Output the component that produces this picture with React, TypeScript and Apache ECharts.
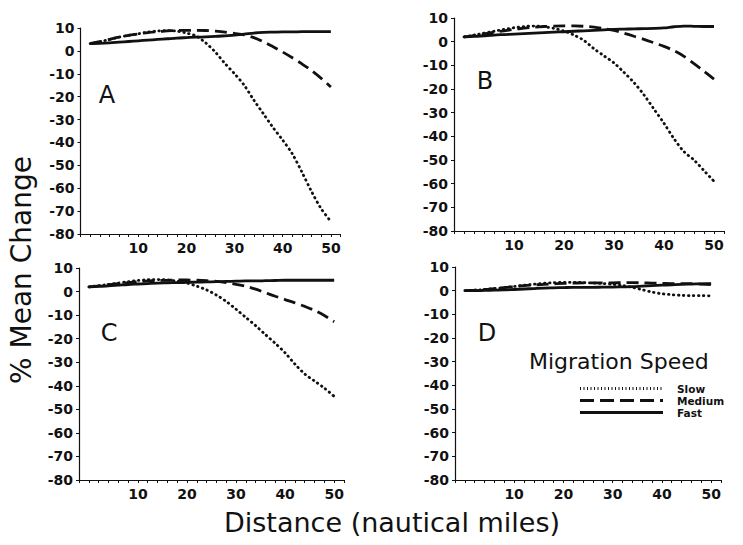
import React, { useEffect, useRef } from "react";
import * as echarts from "echarts";

// Distance (nautical miles), sampled every 2 miles
const distances = [0, 2, 4, 6, 8, 10, 12, 14, 16, 18, 20, 22, 24, 26, 28, 30, 32, 34, 36, 38, 40, 42, 44, 46, 48, 50];

const panelNames = ["A", "B", "C", "D"];
const speedNames = ["Slow", "Medium", "Fast"];

// % mean change, panel A
const slowA = [3.2, 4.0, 5.0, 6.0, 6.8, 7.5, 8.2, 8.7, 8.9, 8.6, 7.8, 6.5, 3.5, -0.5, -5.5, -10, -15, -21.5, -27.5, -33.5, -39, -45, -53, -61.5, -69, -74.5];
const mediumA = [3.2, 4.0, 5.0, 6.0, 6.8, 7.4, 8.0, 8.4, 8.7, 8.9, 9.0, 9.0, 8.9, 8.6, 8.2, 7.6, 7.0, 5.8, 4.0, 1.8, -0.5, -3, -5.7, -8.6, -12, -15.8];
const fastA = [3.2, 3.3, 3.5, 3.8, 4.1, 4.4, 4.7, 5.0, 5.3, 5.6, 5.8, 6.0, 6.1, 6.3, 6.6, 6.9, 7.3, 7.8, 8.1, 8.2, 8.3, 8.3, 8.4, 8.4, 8.4, 8.4];

// panel B
const slowB = [2, 2.8, 3.6, 4.4, 5.2, 5.9, 6.4, 6.6, 6.3, 5.6, 4.5, 2.8, 0.5, -3, -6, -9, -13, -17.3, -22.5, -28.5, -34.5, -41, -46.5, -50, -54.5, -59];
const mediumB = [2, 2.6, 3.3, 4.0, 4.6, 5.2, 5.7, 6.1, 6.4, 6.6, 6.7, 6.7, 6.5, 6.1, 5.5, 4.8, 3.6, 2.3, 1.0, -0.5, -2, -3.8, -6.2, -9.3, -12.5, -15.8];
const fastB = [2, 2.2, 2.5, 2.8, 3.0, 3.2, 3.4, 3.6, 3.8, 4.0, 4.2, 4.4, 4.6, 4.8, 5.0, 5.2, 5.3, 5.4, 5.5, 5.6, 5.8, 6.3, 6.6, 6.5, 6.4, 6.4];

// panel C
const slowC = [2, 2.5, 3.0, 3.6, 4.2, 4.7, 5.0, 5.1, 4.9, 4.4, 3.6, 2.3, 0.7, -1.5, -4.2, -7.5, -11, -14.5, -18.3, -22, -26, -30.8, -35, -38, -41, -44.5];
const mediumC = [2, 2.4, 2.9, 3.4, 3.8, 4.2, 4.5, 4.7, 4.8, 4.9, 4.9, 4.8, 4.6, 4.3, 3.8, 3.1, 2.2, 1.0, -0.5, -2, -3.4, -4.8, -6.3, -8, -10.2, -12.8];
const fastC = [2, 2.2, 2.4, 2.7, 3.0, 3.2, 3.4, 3.6, 3.7, 3.8, 3.9, 4.0, 4.1, 4.2, 4.3, 4.4, 4.5, 4.5, 4.6, 4.7, 4.8, 4.8, 4.8, 4.8, 4.8, 4.8];

// panel D
const slowD = [0, 0.2, 0.5, 0.9, 1.3, 1.8, 2.3, 2.7, 3.1, 3.4, 3.5, 3.5, 3.4, 3.2, 3.0, 2.7, 2.2, 1.4, 0.4, -0.6, -1.3, -1.7, -2.0, -2.1, -2.1, -2.2];
const mediumD = [0, 0.2, 0.5, 0.9, 1.3, 1.7, 2.1, 2.4, 2.7, 2.9, 3.1, 3.2, 3.3, 3.3, 3.3, 3.3, 3.4, 3.4, 3.3, 3.2, 3.1, 3.0, 3.0, 3.0, 2.8, 2.5];
const fastD = [0, 0, 0.1, 0.2, 0.3, 0.5, 0.7, 0.9, 1.1, 1.2, 1.3, 1.4, 1.4, 1.4, 1.5, 1.5, 1.6, 1.7, 1.9, 2.1, 2.3, 2.5, 2.7, 2.8, 2.9, 3.0];

const panelSeries = [
  [slowA, mediumA, fastA],
  [slowB, mediumB, fastB],
  [slowC, mediumC, fastC],
  [slowD, mediumD, fastD],
];

const xTickLabels = [10, 20, 30, 40, 50];

const INK = "#111";
const TICK_FONT = "DejaVu Sans";

const grids = [
  { left: 80.5, top: 28, width: 260, height: 206 },
  { left: 454, top: 18, width: 270, height: 213 },
  { left: 79, top: 268, width: 265, height: 212 },
  { left: 455, top: 267, width: 266, height: 213 },
];

const letterPos = [
  [107, 95],
  [485, 81],
  [109, 333],
  [487, 333],
];

const lineStyles: any[] = [
  { type: [0.5, 4.5], width: 2.8, cap: "round" },
  { type: [12, 6], width: 2.8, cap: "butt" },
  { type: "solid", width: 2.8, cap: "butt" },
];

export default function App() {
  const ref = useRef<HTMLDivElement>(null);

  useEffect(() => {
    if (!ref.current) return;
    const chart = echarts.init(ref.current, null, { renderer: "svg" });

    const xAxes = grids.map((_, i) => ({
      type: "value",
      gridIndex: i,
      min: -2,
      max: 52,
      interval: 2,
      axisLine: { show: true, onZero: false, lineStyle: { color: INK, width: 1.2 } },
      axisTick: { show: true, length: 3, lineStyle: { color: INK, width: 1 } },
      splitLine: { show: false },
      axisLabel: {
        color: INK,
        fontFamily: TICK_FONT,
        fontWeight: "bold",
        fontSize: 14,
        margin: 7,
        formatter: (v: number) => (xTickLabels.indexOf(v) >= 0 ? String(v) : ""),
      },
    }));

    const yAxes = grids.map((_, i) => ({
      type: "value",
      gridIndex: i,
      min: -80,
      max: 10,
      interval: 10,
      axisLine: { show: true, onZero: false, lineStyle: { color: INK, width: 1.2 } },
      axisTick: { show: true, length: 3, lineStyle: { color: INK, width: 1 } },
      splitLine: { show: false },
      axisLabel: {
        color: INK,
        fontFamily: TICK_FONT,
        fontWeight: "bold",
        fontSize: 14,
        margin: 6,
      },
    }));

    const series: any[] = [];
    panelSeries.forEach((group, gi) => {
      group.forEach((vals, si) => {
        series.push({
          type: "line",
          name: speedNames[si],
          xAxisIndex: gi,
          yAxisIndex: gi,
          data: distances.map((d, k) => [d, vals[k]]),
          symbol: "none",
          smooth: 0.3,
          lineStyle: {
            color: INK,
            width: lineStyles[si].width,
            type: lineStyles[si].type,
            cap: lineStyles[si].cap,
          },
          z: 3 - si,
        });
      });
    });

    const graphics: any[] = [];
    panelNames.forEach((name, i) => {
      graphics.push({
        type: "text",
        x: letterPos[i][0],
        y: letterPos[i][1],
        style: {
          text: name,
          fontFamily: "DejaVu Sans",
          fontSize: 24,
          fill: INK,
          textAlign: "center",
          textVerticalAlign: "middle",
        },
      });
    });

    graphics.push({
      type: "text",
      x: 529,
      y: 361,
      style: {
        text: "Migration Speed",
        fontFamily: "DejaVu Sans",
        fontSize: 22,
        fill: INK,
        textAlign: "left",
        textVerticalAlign: "middle",
      },
    });

    const legendY = [388.5, 400.5, 412.5];
    speedNames.forEach((name, i) => {
      graphics.push({
        type: "line",
        shape: { x1: 580, y1: legendY[i], x2: 663, y2: legendY[i] },
        style: {
          stroke: INK,
          lineWidth: lineStyles[i].width,
          lineDash: i === 2 ? null : i === 0 ? [1, 2.5] : [14, 6],
          lineCap: "butt",
        },
      });
      graphics.push({
        type: "text",
        x: 677,
        y: legendY[i],
        style: {
          text: name,
          fontFamily: "DejaVu Sans",
          fontWeight: "bold",
          fontSize: 10.5,
          fill: INK,
          textAlign: "left",
          textVerticalAlign: "middle",
        },
      });
    });

    graphics.push({
      type: "text",
      x: 392,
      y: 522,
      style: {
        text: "Distance (nautical miles)",
        fontFamily: "DejaVu Sans",
        fontSize: 27,
        fill: INK,
        textAlign: "center",
        textVerticalAlign: "middle",
      },
    });

    graphics.push({
      type: "text",
      x: 21,
      y: 270,
      rotation: Math.PI / 2,
      style: {
        text: "% Mean Change",
        fontFamily: "DejaVu Sans",
        fontSize: 28,
        fill: INK,
        textAlign: "center",
        textVerticalAlign: "middle",
      },
    });

    chart.setOption({
      animation: false,
      backgroundColor: "#fff",
      grid: grids.map((g) => ({ ...g, containLabel: false })),
      xAxis: xAxes,
      yAxis: yAxes,
      series,
      graphic: graphics,
    });

    return () => chart.dispose();
  }, []);

  return <div ref={ref} style={{ width: 743, height: 545, position: "absolute", left: 0, top: 0 }} />;
}
